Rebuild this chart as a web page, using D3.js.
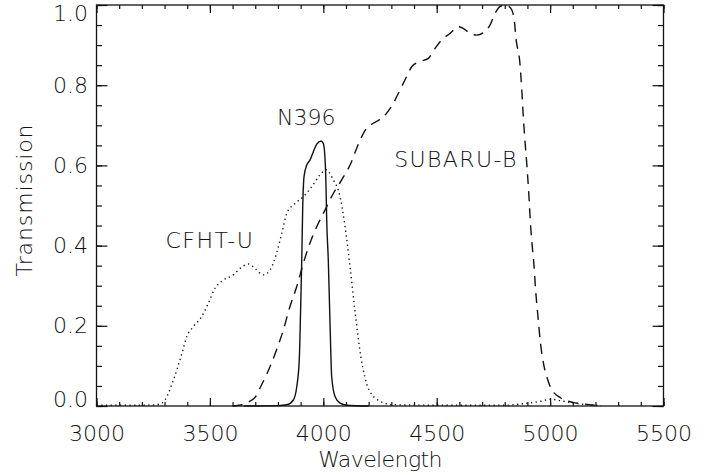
<!DOCTYPE html>
<html>
<head>
<meta charset="utf-8">
<script src="https://cdn.jsdelivr.net/npm/d3@7"></script>
<style>
  body { margin: 0; background: #fff; }
  text { font-family: "DejaVu Sans", sans-serif; font-size: 22px; font-weight: 200; fill: #111; }
</style>
</head>
<body>
<div id="chart"></div>
<script>
// filter transmission curves
var cfhtWave = [3000, 3100, 3200, 3260, 3290, 3302, 3339, 3376, 3398, 3427, 3464, 3493, 3522, 3559, 3603, 3633, 3669, 3699, 3735, 3765, 3794, 3817, 3839, 3875, 3912, 3949, 3985, 4012, 4044, 4074, 4096, 4118, 4140, 4165, 4202, 4250, 4312, 4500, 4800, 4900, 4960, 5003, 5047, 5105, 5194, 5225];
var cfhtTrans = [0.002, 0.002, 0.002, 0.003, 0.008, 0.015, 0.065, 0.13, 0.173, 0.198, 0.223, 0.256, 0.293, 0.314, 0.327, 0.343, 0.354, 0.343, 0.327, 0.339, 0.381, 0.431, 0.48, 0.505, 0.522, 0.547, 0.576, 0.589, 0.564, 0.522, 0.447, 0.347, 0.235, 0.125, 0.04, 0.012, 0.003, 0.002, 0.002, 0.007, 0.012, 0.017, 0.013, 0.007, 0.002, 0.001];

var n396Wave = [3650, 3800, 3839, 3868, 3883, 3894, 3900, 3905, 3909, 3915, 3927, 3941, 3956, 3971, 3990, 4000, 4008, 4012, 4015, 4022, 4030, 4037, 4052, 4074, 4103, 4200];
var n396Trans = [0.0, 0.001, 0.003, 0.015, 0.048, 0.115, 0.24, 0.364, 0.489, 0.572, 0.601, 0.613, 0.634, 0.653, 0.661, 0.655, 0.613, 0.547, 0.464, 0.364, 0.198, 0.073, 0.023, 0.007, 0.002, 0.0];

var subaruWave = [3600, 3640, 3677, 3700, 3721, 3765, 3794, 3824, 3853, 3883, 3912, 3941, 3971, 4008, 4044, 4081, 4118, 4162, 4190, 4220, 4265, 4309, 4338, 4360, 4390, 4426, 4463, 4493, 4529, 4559, 4595, 4617, 4647, 4676, 4713, 4735, 4757, 4779, 4801, 4825, 4840, 4851, 4866, 4875, 4881, 4888, 4897, 4906, 4914, 4921, 4929, 4936, 4947, 4958, 4973, 4990, 5003, 5047, 5100, 5135, 5223];
var subaruTrans = [0.0, 0.003, 0.012, 0.022, 0.045, 0.098, 0.14, 0.19, 0.248, 0.298, 0.356, 0.406, 0.447, 0.489, 0.53, 0.564, 0.601, 0.663, 0.692, 0.705, 0.721, 0.755, 0.788, 0.813, 0.846, 0.859, 0.867, 0.892, 0.917, 0.929, 0.946, 0.942, 0.929, 0.925, 0.934, 0.95, 0.979, 0.996, 1.0, 0.993, 0.97, 0.91, 0.86, 0.79, 0.73, 0.67, 0.605, 0.53, 0.45, 0.40, 0.35, 0.29, 0.22, 0.155, 0.10, 0.065, 0.045, 0.02, 0.009, 0.006, 0.001];

var filterNames = ["CFHT-U", "N396", "SUBARU-B"];
var xMajorTicks = [3000, 3500, 4000, 4500, 5000, 5500];
var yMajorTicks = [0.0, 0.2, 0.4, 0.6, 0.8, 1.0];

// helpers
var width = 714, height = 475;
var plot = { left: 96.5, right: 663.5, top: 5, bottom: 406 };

var x = d3.scaleLinear().domain([3000, 5500]).range([plot.left, plot.right]);
var y = d3.scaleLinear().domain([0, 1]).range([plot.bottom, plot.top]);

var svg = d3.select("#chart").append("svg").attr("width", width).attr("height", height);
svg.append("rect").attr("width", width).attr("height", height).attr("fill", "#fff");

var zip = function(w, t) {
    return w.map(function(d, i) { return [d, t[i]]; });
};

var minorX = d3.range(3000, 5501, 100);
var minorY = d3.range(0, 21).map(function(i) { return i * 0.05; });

// axes, ticks pointing inward on all four sides
var addAxis = function(axis, tx, ty) {
    return svg.append("g").attr("transform", "translate(" + tx + "," + ty + ")").call(axis)
        .call(function(g) { g.select(".domain").remove(); })
        .call(function(g) { g.selectAll("line").attr("stroke", "#111").attr("stroke-width", 1.2); });
};

addAxis(d3.axisBottom(x).tickValues(minorX).tickSizeInner(-4).tickSizeOuter(0).tickFormat(""), 0, plot.bottom);
addAxis(d3.axisTop(x).tickValues(minorX).tickSizeInner(-4).tickSizeOuter(0).tickFormat(""), 0, plot.top);
addAxis(d3.axisLeft(y).tickValues(minorY).tickSizeInner(-5.5).tickSizeOuter(0).tickFormat(""), plot.left, 0);
addAxis(d3.axisRight(y).tickValues(minorY).tickSizeInner(-5.5).tickSizeOuter(0).tickFormat(""), plot.right, 0);

addAxis(d3.axisBottom(x).tickValues(xMajorTicks).tickSizeInner(-8).tickSizeOuter(0).tickPadding(19.5).tickFormat(d3.format("d")), 0, plot.bottom);
addAxis(d3.axisTop(x).tickValues(xMajorTicks).tickSizeInner(-8).tickSizeOuter(0).tickFormat(""), 0, plot.top);
var yAxisG = addAxis(d3.axisLeft(y).tickValues(yMajorTicks).tickSizeInner(-11).tickSizeOuter(0).tickPadding(8.5).tickFormat(d3.format(".1f")), plot.left, 0);
addAxis(d3.axisRight(y).tickValues(yMajorTicks).tickSizeInner(-11).tickSizeOuter(0).tickFormat(""), plot.right, 0);

svg.selectAll(".tick text").attr("font-size", null).attr("font-family", null).attr("fill", "#111");
// end labels are kept inside the frame
yAxisG.selectAll(".tick text").attr("dy", function(d) {
    if (d === 0) return "0.04em";
    if (d === 1) return "0.72em";
    return "0.32em";
});

svg.append("rect")
    .attr("x", plot.left).attr("y", plot.top)
    .attr("width", plot.right - plot.left).attr("height", plot.bottom - plot.top)
    .attr("fill", "none").attr("stroke", "#111").attr("stroke-width", 1.3);

// curves
var line = d3.line()
    .x(function(d) { return x(d[0]); })
    .y(function(d) { return y(d[1]); })
    .curve(d3.curveMonotoneX);

var series = [
    { data: zip(cfhtWave, cfhtTrans), dash: "1.3,3.4" },
    { data: zip(n396Wave, n396Trans), dash: null },
    { data: zip(subaruWave, subaruTrans), dash: "10,7" }
];

svg.append("g").selectAll("path").data(series).enter()
    .append("path")
    .attr("d", function(d) { return line(d.data); })
    .attr("fill", "none")
    .attr("stroke", "#111")
    .attr("stroke-width", 1.4)
    .attr("stroke-dasharray", function(d) { return d.dash; });

// curve labels
var labels = [
    { name: filterNames[0], w: 3500, t: 0.395, ls: 1.5 },
    { name: filterNames[1], w: 3925, t: 0.70, ls: 0 },
    { name: filterNames[2], w: 4585, t: 0.595, ls: 1.4 }
];
svg.append("g").selectAll("text").data(labels).enter()
    .append("text")
    .attr("x", function(d) { return x(d.w); })
    .attr("y", function(d) { return y(d.t); })
    .attr("text-anchor", "middle")
    .attr("letter-spacing", function(d) { return d.ls; })
    .text(function(d) { return d.name; });

// axis titles
svg.append("text")
    .attr("x", 380).attr("y", 467)
    .attr("text-anchor", "middle")
    .attr("letter-spacing", -0.6)
    .text("Wavelength");

svg.append("text")
    .attr("transform", "translate(32,200) rotate(-90)")
    .attr("text-anchor", "middle")
    .attr("letter-spacing", 0.9)
    .text("Transmission");
</script>
</body>
</html>
